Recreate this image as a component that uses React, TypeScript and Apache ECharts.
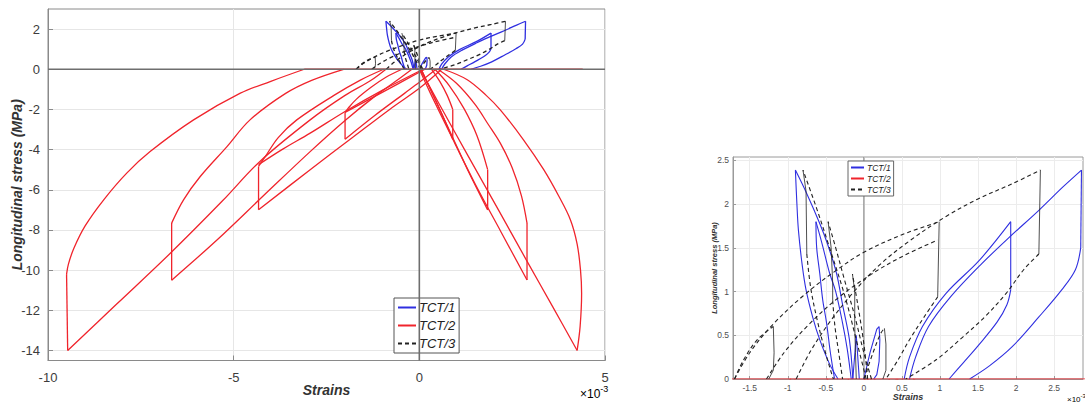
import React, { useEffect, useRef } from "react";
import * as echarts from "echarts";

// ---------- tick values ----------
const mainYTicks = [-14, -12, -10, -8, -6, -4, -2, 0, 2];
const insetXTicks = [-1.5, -1, -0.5, 0, 0.5, 1, 1.5, 2, 2.5];
const insetYTicks = [0, 0.5, 1, 1.5, 2, 2.5];
const seriesNames = ["TCT/1", "TCT/2", "TCT/3"];

// ---------- TCT/1 (blue) : strain (x10^-3), stress (MPa) ----------
const tct1LoadR18 = [[0.53,0],[0.6,0.25],[0.77,0.6],[1.08,0.98],[1.52,1.36],[1.93,1.8]];
const tct1DropR18 = [[1.93,1.8],[1.93,1.02]];
const tct1UnloadR18 = [[1.93,1.02],[1.88,0.85],[1.75,0.65],[1.5,0.38],[1.3,0.18],[1.12,0]];
const tct1LoadR24 = [[0.6,0],[0.68,0.25],[0.85,0.6],[1.15,0.95],[1.55,1.32],[1.91,1.62],[2.3,1.93],[2.62,2.2],[2.86,2.39]];
const tct1DropR24 = [[2.86,2.39],[2.85,1.5]];
const tct1UnloadR24 = [[2.85,1.5],[2.78,1.25],[2.6,1.02],[2.3,0.71],[1.95,0.37],[1.65,0.15],[1.39,0]];
const tct1LoadL24 = [[-0.145,0],[-0.19,0.45],[-0.28,0.85],[-0.36,1.21],[-0.48,1.55],[-0.58,1.78],[-0.75,2.12],[-0.9,2.39]];
const tct1UnloadL24 = [[-0.9,2.39],[-0.88,2.0],[-0.86,1.7],[-0.81,1.3],[-0.76,1.02],[-0.67,0.7],[-0.58,0.45],[-0.45,0.17],[-0.34,0]];
const tct1LoadL18 = [[-0.166,0],[-0.22,0.35],[-0.28,0.64],[-0.37,1.0],[-0.45,1.21],[-0.55,1.55],[-0.63,1.8]];
const tct1UnloadL18 = [[-0.63,1.8],[-0.62,1.5],[-0.58,1.21],[-0.54,0.9],[-0.49,0.64],[-0.44,0.3],[-0.385,0]];
const tct1Spike = [[-0.145,0],[-0.1,0.5],[-0.06,0]];
const tct1SmallLoop = [[0.0,0],[0.08,0.3],[0.17,0.57],[0.2,0.6],[0.21,0.45],[0.2,0.2],[0.17,0.05],[0.13,0]];

// ---------- TCT/2 (red) ----------
const tct2ZeroPath = [[-3.1,0],[4.4,0]];
const tct2ArcL14 = [[-3.1,0],[-4.0,-0.6],[-4.82,-1.19],[-6.08,-2.52],[-7.25,-4.1],[-7.88,-5.17],[-8.5,-6.5],[-9.0,-7.8],[-9.3,-8.9],[-9.45,-9.7],[-9.5,-10.2]];
const tct2DropL14 = [[-9.5,-10.2],[-9.47,-14.0]];
const tct2UnloadL14 = [[-9.47,-14.0],[-8.15,-11.69],[-6.7,-9.15],[-5.3,-6.55],[-4.3,-4.6],[-2.94,-2.52],[-2.0,-1.3],[-1.3,-0.55],[-0.9,0]];
const tct2ArcL105 = [[-2.04,0],[-2.9,-0.55],[-3.6,-1.2],[-4.56,-2.52],[-5.18,-3.85],[-5.9,-5.34],[-6.35,-6.5],[-6.67,-7.66]];
const tct2DropL105 = [[-6.67,-7.66],[-6.67,-10.5]];
const tct2UnloadL105 = [[-6.67,-10.5],[-5.45,-8.5],[-4.2,-6.3],[-2.94,-4.1],[-2.0,-2.55],[-1.2,-1.35],[-0.6,-0.55],[-0.2,0]];
const tct2ArcL7 = [[-0.96,0],[-1.6,-0.55],[-2.3,-1.3],[-3.3,-2.52],[-3.8,-3.4],[-4.15,-4.35],[-4.33,-4.84]];
const tct2DropL7 = [[-4.33,-4.84],[-4.33,-7.0]];
const tct2UnloadL7 = [[-4.33,-7.0],[-2.94,-5.0],[-1.8,-3.4],[-0.8,-2.0],[0,-0.95],[0.6,0]];
const tct2ReloadL7 = [[0.1,0],[-1.0,-1.05],[-2.0,-2.1],[-2.94,-3.18],[-3.7,-4.0],[-4.33,-4.75]];
const tct2ArcL35 = [[-0.47,0],[-0.9,-0.4],[-1.3,-0.9],[-1.7,-1.5],[-1.92,-1.95],[-2.0,-2.15]];
const tct2DropL35 = [[-2.0,-2.15],[-2.0,-3.48]];
const tct2UnloadL35 = [[-2.0,-3.48],[-1.2,-2.3],[-0.4,-1.2],[0,-0.65],[0.45,0]];
const tct2ReloadL35 = [[0.15,0],[-0.6,-0.75],[-1.3,-1.45],[-2.0,-2.15]];
const tct2ArcR14 = [[0.65,0],[1.29,-0.52],[1.8,-1.3],[2.18,-2.02],[2.8,-3.5],[3.35,-5.0],[3.75,-6.3],[4.07,-7.5],[4.25,-8.7],[4.34,-9.99],[4.37,-11.15],[4.33,-12.8],[4.25,-14.0]];
const tct2UnloadR14 = [[4.25,-14.0],[3.59,-11.82],[2.88,-9.49],[2.13,-7.0],[1.32,-4.34],[0.52,-1.68],[0.2,-0.6],[0.01,0]];
const tct2ArcR105 = [[0.5,0],[1.0,-0.7],[1.5,-1.75],[1.84,-2.7],[2.18,-3.68],[2.5,-4.9],[2.75,-6.3],[2.9,-7.66]];
const tct2DropR105 = [[2.9,-7.66],[2.9,-10.49]];
const tct2UnloadR105 = [[2.9,-10.49],[2.2,-8.1],[1.5,-5.7],[0.8,-3.1],[0.3,-1.2],[0.0,0]];
const tct2ArcR7 = [[0.42,0],[0.8,-0.8],[1.2,-1.95],[1.55,-3.3],[1.84,-5.0]];
const tct2DropR7 = [[1.84,-5.0],[1.84,-7.0]];
const tct2UnloadR7 = [[1.84,-7.0],[1.3,-5.0],[0.8,-3.0],[0.35,-1.2],[0.05,0]];
const tct2ArcR35 = [[0.33,0],[0.55,-0.6],[0.75,-1.3],[0.9,-2.0]];
const tct2DropR35 = [[0.9,-2.0],[0.9,-3.48]];
const tct2UnloadR35 = [[0.9,-3.48],[0.6,-2.2],[0.3,-1.0],[0.05,0]];

// ---------- TCT/3 (black dashed) ----------
const tct3LoadB = [[-0.89,0],[-0.7,0.32],[-0.45,0.65],[-0.15,0.98],[0.2,1.3],[0.6,1.58],[1.08,1.86],[1.5,2.06],[1.94,2.23],[2.32,2.39]];
const tct3DropB = [[2.32,2.39],[2.3,1.43]];
const tct3UnloadB = [[2.3,1.43],[2.1,1.25],[1.87,0.98],[1.6,0.72],[1.3,0.48],[0.95,0.22],[0.55,0]];
const tct3LoadA = [[-1.7,0],[-1.5,0.3],[-1.2,0.62],[-0.8,0.95],[-0.4,1.22],[0,1.45],[0.5,1.65],[0.99,1.8]];
const tct3DropA = [[0.99,1.8],[0.97,0.94]];
const tct3UnloadA = [[0.97,0.94],[0.8,0.72],[0.6,0.45],[0.45,0.22],[0.29,0]];
const tct3LoadC = [[-1.28,0],[-1.05,0.3],[-0.75,0.6],[-0.35,0.92],[0.1,1.2],[0.5,1.4],[0.97,1.59]];
const tct3LoadL24 = [[0.03,0],[-0.1,0.45],[-0.25,0.95],[-0.45,1.5],[-0.62,1.95],[-0.8,2.39]];
const tct3DropL24 = [[-0.8,2.39],[-0.76,2.15],[-0.75,1.43]];
const tct3UnloadL24 = [[-0.75,1.43],[-0.7,1.05],[-0.62,0.7],[-0.52,0.35],[-0.42,0.05],[-0.4,0]];
const tct3LoadL18 = [[0.1,0],[0.0,0.3],[-0.12,0.72],[-0.25,1.12],[-0.37,1.5],[-0.47,1.8]];
const tct3DropL18 = [[-0.47,1.8],[-0.43,1.5],[-0.41,1.1],[-0.41,0.9]];
const tct3UnloadL18 = [[-0.41,0.9],[-0.38,0.6],[-0.33,0.3],[-0.28,0]];
const tct3LoadL12 = [[0.05,0],[0.0,0.4],[-0.08,0.85],[-0.15,1.2]];
const tct3DropL12 = [[-0.15,1.2],[-0.12,1.0],[-0.12,0.6],[-0.11,0.3],[-0.1,0]];
const tct3LoadL06 = [[-1.7,0],[-1.58,0.22],[-1.4,0.45],[-1.19,0.6]];
const tct3DropL06 = [[-1.19,0.6],[-1.18,0.3],[-1.19,0.1],[-1.25,0]];
const tct3LoadR06 = [[0.0,0],[0.12,0.3],[0.22,0.52],[0.27,0.58]];
const tct3DropR06 = [[0.27,0.58],[0.29,0.4],[0.29,0.1],[0.25,0]];

// curved parts (drawn smooth) and straight parts per series
const tct1Curves = [tct1LoadR18, tct1UnloadR18, tct1LoadR24, tct1UnloadR24, tct1LoadL24, tct1UnloadL24, tct1LoadL18, tct1UnloadL18];
const tct1Straights = [tct1DropR18, tct1DropR24, tct1Spike, tct1SmallLoop];
const tct2Curves = [tct2ArcL14, tct2UnloadL14, tct2ArcL105, tct2UnloadL105, tct2ArcL7, tct2UnloadL7, tct2ReloadL7, tct2ArcL35, tct2UnloadL35, tct2ReloadL35, tct2ArcR14, tct2UnloadR14, tct2ArcR105, tct2UnloadR105, tct2ArcR7, tct2UnloadR7, tct2ArcR35, tct2UnloadR35];
const tct2Straights = [tct2ZeroPath, tct2DropL14, tct2DropL105, tct2DropL7, tct2DropL35, tct2DropR105, tct2DropR7, tct2DropR35];
const tct3Curves = [tct3LoadB, tct3UnloadB, tct3LoadA, tct3UnloadA, tct3LoadC, tct3LoadL24, tct3UnloadL24, tct3LoadL18, tct3UnloadL18, tct3LoadL12, tct3LoadL06, tct3LoadR06];
const tct3Straights = [tct3DropB, tct3DropA, tct3DropL24, tct3DropL18, tct3DropL12, tct3DropL06, tct3DropR06];

const FONT = "Liberation Sans, Arial, Helvetica, sans-serif";
const BLUE = "#2f2fe0";
const RED = "#f0242c";
const BLACK = "#222222";

function makeSeries(name: string, segs: number[][][], color: string, type: any, width: number, idx: number, smooth: any) {
  return segs.map((d) => ({
    type: "line",
    name,
    xAxisIndex: idx,
    yAxisIndex: idx,
    data: d,
    smooth,
    symbol: "none",
    showSymbol: false,
    clip: true,
    silent: true,
    z: 3,
    itemStyle: { color },
    lineStyle: { color, width, type },
  }));
}

function refLine(data: number[][], color: string, width: number, idx: number, z: number) {
  return {
    type: "line",
    name: "_ref",
    xAxisIndex: idx,
    yAxisIndex: idx,
    data,
    symbol: "none",
    silent: true,
    z,
    lineStyle: { color, width },
    itemStyle: { color },
  };
}

export default function App() {
  const ref = useRef<HTMLDivElement>(null);
  useEffect(() => {
    document.body.style.margin = "0";
    if (!ref.current) return;
    const chart = echarts.init(ref.current, undefined, { renderer: "svg" });
    const axisLabelMain = { color: "#3c3c3c", fontSize: 13, fontFamily: FONT };
    const axisLabelInset = { color: "#505050", fontSize: 8.5, fontFamily: FONT, margin: 4 };
    const nameStyleMain = { fontFamily: FONT, fontWeight: "bold", fontStyle: "italic", fontSize: 14, color: "#333" };
    const nameStyleInset = { fontFamily: FONT, fontWeight: "bold", fontStyle: "italic", fontSize: 7.5, color: "#333" };
    const gridLineMain = { show: true, lineStyle: { color: "#e6e6e6", width: 1 } };
    const gridLineInset = { show: true, lineStyle: { color: "#ececec", width: 1 } };
    const hiddenSymbol = { color: "rgba(0,0,0,0)", borderColor: "rgba(0,0,0,0)", borderWidth: 0, opacity: 0 };

    const series: any[] = [];
    for (const idx of [0, 1]) {
      const w = idx === 0 ? 1.3 : 1.1;
      series.push(...makeSeries("TCT/1", tct1Curves, BLUE, "solid", w, idx, 0.35));
      series.push(...makeSeries("TCT/1", tct1Straights, BLUE, "solid", w, idx, false));
      series.push(...makeSeries("TCT/2", tct2Curves, RED, "solid", w, idx, 0.35));
      series.push(...makeSeries("TCT/2", tct2Straights, RED, "solid", w, idx, false));
      series.push(...makeSeries("TCT/3", tct3Curves, BLACK, [4, 3], w, idx, 0.35));
      series.push(...makeSeries("TCT/3", tct3Straights, BLACK, "solid", 0.8, idx, false));
    }
    series.push(refLine([[-10, 0], [5, 0]], "#6e6e6e", 1.6, 0, 4));
    series.push(refLine([[0, -14.5], [0, 3]], "#6e6e6e", 1.6, 0, 4));
    series.push(refLine([[0, 0], [0, 2.54]], "#8c8c8c", 1.2, 1, 1));

    const option: any = {
      animation: false,
      backgroundColor: "#ffffff",
      grid: [
        { left: 48, top: 9, width: 557, height: 351.5, show: true, borderColor: "#8a8a8a", borderWidth: 1, outerBoundsMode: "none" },
        { left: 733, top: 157, width: 350, height: 222, show: true, borderColor: "#9a9a9a", borderWidth: 1, outerBoundsMode: "none" },
      ],
      xAxis: [
        {
          type: "value", gridIndex: 0, min: -10, max: 5, interval: 5,
          axisLine: { show: true, onZero: false, lineStyle: { color: "#8a8a8a" } },
          axisTick: { show: true, inside: true, length: 5, lineStyle: { color: "#8a8a8a" } },
          axisLabel: { ...axisLabelMain, margin: 10 },
          splitLine: gridLineMain,
          name: "Strains", nameLocation: "middle", nameGap: 22, nameMoveOverlap: false, nameTextStyle: nameStyleMain,
        },
        {
          type: "value", gridIndex: 1, min: -1.72, max: 2.88,
          axisLine: { show: true, onZero: false, lineStyle: { color: "#9a9a9a" } },
          axisTick: { show: true, inside: true, length: 3, customValues: insetXTicks, lineStyle: { color: "#9a9a9a" } },
          axisLabel: { ...axisLabelInset, customValues: insetXTicks },
          splitLine: gridLineInset,
          name: "Strains", nameLocation: "middle", nameGap: 13, nameMoveOverlap: false, nameTextStyle: { ...nameStyleInset, fontSize: 9 },
        },
      ],
      yAxis: [
        {
          type: "value", gridIndex: 0, min: -14.5, max: 3,
          axisLine: { show: true, onZero: false, lineStyle: { color: "#8a8a8a" } },
          axisTick: { show: true, inside: true, length: 5, customValues: mainYTicks, lineStyle: { color: "#8a8a8a" } },
          axisLabel: { ...axisLabelMain, customValues: mainYTicks, margin: 8 },
          splitLine: gridLineMain,
          name: "Longitudinal stress (MPa)", nameLocation: "middle", nameGap: 24, nameMoveOverlap: false, nameRotate: 90, nameTextStyle: nameStyleMain,
        },
        {
          type: "value", gridIndex: 1, min: 0, max: 2.54,
          axisLine: { show: true, onZero: false, lineStyle: { color: "#9a9a9a" } },
          axisTick: { show: true, inside: true, length: 3, customValues: insetYTicks, lineStyle: { color: "#9a9a9a" } },
          axisLabel: { ...axisLabelInset, customValues: insetYTicks },
          splitLine: gridLineInset,
          name: "Longitudinal stress (MPa)", nameLocation: "middle", nameGap: 15, nameMoveOverlap: false, nameRotate: 90, nameTextStyle: nameStyleInset,
        },
      ],
      legend: [
        {
          data: seriesNames, orient: "vertical", left: 394, top: 298,
          itemWidth: 18, itemHeight: 10, itemGap: 5,
          padding: [3, 4, 3, 3], borderColor: "#555", borderWidth: 1, borderRadius: 0,
          backgroundColor: "#fff", selectedMode: false, itemStyle: hiddenSymbol,
          textStyle: { fontFamily: FONT, fontStyle: "italic", fontSize: 13, color: "#222", padding: [0, 0, 0, -2] },
        },
        {
          data: seriesNames, orient: "vertical", left: 848, top: 161,
          itemWidth: 13, itemHeight: 8, itemGap: 2,
          padding: [2, 3, 2, 2], borderColor: "#666", borderWidth: 1, borderRadius: 0,
          backgroundColor: "#fff", selectedMode: false, itemStyle: hiddenSymbol,
          textStyle: { fontFamily: FONT, fontStyle: "italic", fontSize: 8.5, color: "#222", padding: [0, 0, 0, -2] },
        },
      ],
      graphic: [
        {
          type: "text", left: 580, top: 384,
          style: {
            text: "{a|×10}{b|-3}",
            rich: {
              a: { fontFamily: FONT, fontSize: 12, color: "#555", padding: [6, 0, 0, 0] },
              b: { fontFamily: FONT, fontSize: 9, color: "#555", padding: [0, 0, 4, 0] },
            },
          },
        },
        {
          type: "text", left: 1067, top: 393,
          style: {
            text: "{a|×10}{b|-3}",
            rich: {
              a: { fontFamily: FONT, fontSize: 8, color: "#555", padding: [4, 0, 0, 0] },
              b: { fontFamily: FONT, fontSize: 6, color: "#555", padding: [0, 0, 3, 0] },
            },
          },
        },
      ],
      series,
    };
    chart.setOption(option);
    return () => chart.dispose();
  }, []);
  return <div ref={ref} style={{ width: 1085, height: 406 }} />;
}
